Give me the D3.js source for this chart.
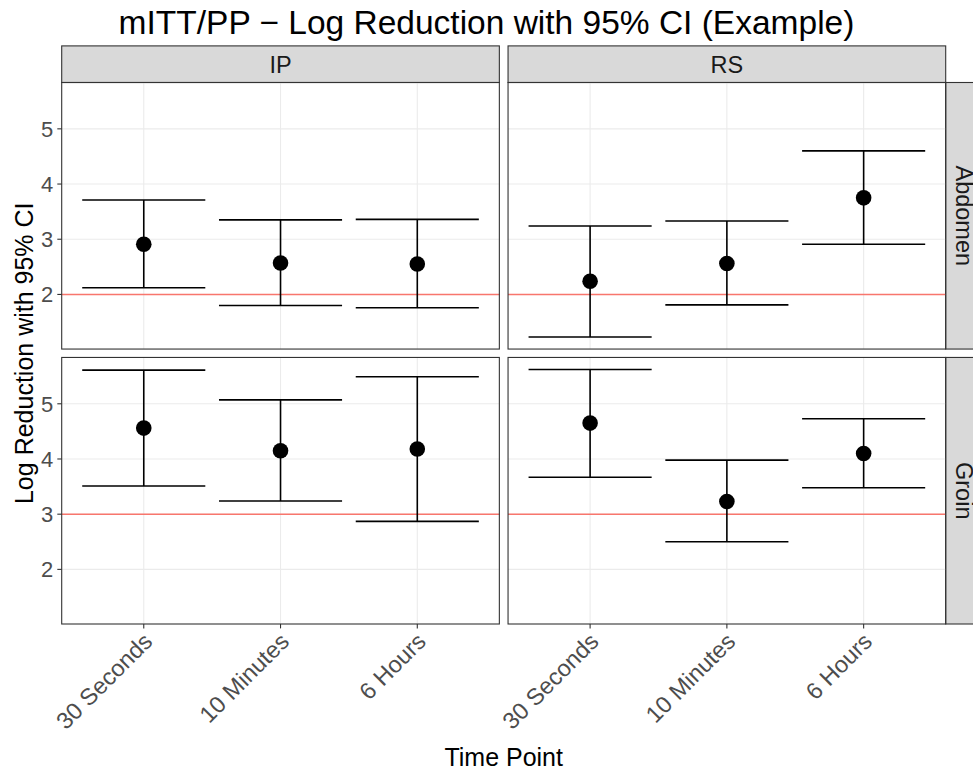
<!DOCTYPE html>
<html lang="en">
<head>
    <meta charset="UTF-8">
    <title>mITT/PP Log Reduction</title>
    <style>
        body { margin: 0; background: #fff; }
        svg { display: block; font-family: "Liberation Sans", Arial, Helvetica, sans-serif; }
        .grid line { stroke: #EBEBEB; stroke-width: 1.1; }
        .frame { fill: none; stroke: #333333; stroke-width: 1.1; }
        .strip { fill: #D9D9D9; stroke: #333333; stroke-width: 1.1; }
        .strip-text { font-size: 23.5px; fill: #1A1A1A; }
        .tick-label { font-size: 22px; fill: #4D4D4D; }
        .tick-label.x { font-size: 23.5px; }
        .axis-title { font-size: 25px; fill: #000; }
    </style>
</head>
<body>
    <svg width="973" height="775"></svg>
    <script src="https://d3js.org/d3.v7.min.js"></script>
    <script>
        // categories
        var timePoints = ["30 Seconds", "10 Minutes", "6 Hours"];
        var groups = ["IP", "RS"];
        var sites = ["Abdomen", "Groin"];
        var thresholds = [2, 3]; // one per site
        var yTicks = [2, 3, 4, 5];

        // log reduction estimates and 95% CI, per facet (site x group)
        var abdomenIPEst = [2.91, 2.57, 2.55];
        var abdomenIPLow = [2.12, 1.80, 1.76];
        var abdomenIPHigh = [3.71, 3.35, 3.36];

        var abdomenRSEst = [2.24, 2.56, 3.75];
        var abdomenRSLow = [1.23, 1.81, 2.91];
        var abdomenRSHigh = [3.24, 3.33, 4.60];

        var groinIPEst = [4.56, 4.15, 4.18];
        var groinIPLow = [3.51, 3.24, 2.87];
        var groinIPHigh = [5.61, 5.07, 5.49];

        var groinRSEst = [4.65, 3.23, 4.10];
        var groinRSLow = [3.67, 2.50, 3.48];
        var groinRSHigh = [5.62, 3.98, 4.73];

        var facets = [
            { site: "Abdomen", group: "IP", est: abdomenIPEst, low: abdomenIPLow, high: abdomenIPHigh },
            { site: "Abdomen", group: "RS", est: abdomenRSEst, low: abdomenRSLow, high: abdomenRSHigh },
            { site: "Groin", group: "IP", est: groinIPEst, low: groinIPLow, high: groinIPHigh },
            { site: "Groin", group: "RS", est: groinRSEst, low: groinRSLow, high: groinRSHigh }
        ];

        var svg = d3.select("svg");

        // layout (avoid window.top etc.)
        var panelL = 61.7, panelR = 945.7, panelT = 82.5, panelB = 624;
        var gapX = 8.7, gapY = 8.4, stripH = 36.6;
        var pw = (panelR - panelL - gapX) / 2;
        var ph = (panelB - panelT - gapY) / 2;

        // shared y scale with ggplot-style 5% expansion
        var allVals = [];
        facets.forEach(function (f) { allVals = allVals.concat(f.low, f.high); });
        var ext = d3.extent(allVals);
        var pad = (ext[1] - ext[0]) * 0.05;

        var y = d3.scaleLinear().domain([ext[0] - pad, ext[1] + pad]).range([ph, 0]);
        // discrete x with 0.6 expansion on each side
        var x = d3.scaleLinear().domain([0.4, timePoints.length + 0.6]).range([0, pw]);

        // title
        svg.append("text")
            .attr("x", 486.5)
            .attr("y", 34)
            .attr("text-anchor", "middle")
            .style("font-size", "33.5px")
            .text("mITT/PP \u2212 Log Reduction with 95% CI (Example)");

        // strips on top
        groups.forEach(function (g, ci) {
            var px = panelL + ci * (pw + gapX);
            svg.append("rect").attr("class", "strip")
                .attr("x", px).attr("y", panelT - stripH)
                .attr("width", pw).attr("height", stripH);
            svg.append("text").attr("class", "strip-text")
                .attr("x", px + pw / 2).attr("y", panelT - stripH / 2)
                .attr("dy", "0.36em")
                .attr("text-anchor", "middle")
                .text(g);
        });

        // strips on the right
        sites.forEach(function (s, ri) {
            var py = panelT + ri * (ph + gapY);
            svg.append("rect").attr("class", "strip")
                .attr("x", panelR).attr("y", py)
                .attr("width", stripH).attr("height", ph);
            svg.append("text").attr("class", "strip-text")
                .attr("transform", "translate(" + (panelR + stripH / 2) + "," + (py + ph / 2) + ") rotate(90)")
                .attr("dy", "0.36em")
                .attr("text-anchor", "middle")
                .text(s);
        });

        facets.forEach(function (f) {
            var ci = groups.indexOf(f.group), ri = sites.indexOf(f.site);
            var g = svg.append("g")
                .attr("transform", "translate(" + (panelL + ci * (pw + gapX)) + "," + (panelT + ri * (ph + gapY)) + ")");

            var grid = g.append("g").attr("class", "grid");
            grid.selectAll(".hy").data(yTicks).enter().append("line")
                .attr("x1", 0).attr("x2", pw)
                .attr("y1", function (d) { return y(d); })
                .attr("y2", function (d) { return y(d); });
            grid.selectAll(".vx").data(timePoints).enter().append("line")
                .attr("y1", 0).attr("y2", ph)
                .attr("x1", function (d, i) { return x(i + 1); })
                .attr("x2", function (d, i) { return x(i + 1); });

            // reference line
            g.append("line")
                .attr("x1", 0).attr("x2", pw)
                .attr("y1", y(thresholds[ri])).attr("y2", y(thresholds[ri]))
                .style("stroke", "#F8766D")
                .style("stroke-width", 1.5);

            var rows = f.est.map(function (e, i) { return { i: i, est: e, low: f.low[i], high: f.high[i] }; });
            var halfW = (x(1.45) - x(1)); // errorbar width 0.9

            var eb = g.selectAll(".eb").data(rows).enter().append("g")
                .style("stroke", "#000").style("stroke-width", 1.6);
            eb.append("line")
                .attr("x1", function (d) { return x(d.i + 1); })
                .attr("x2", function (d) { return x(d.i + 1); })
                .attr("y1", function (d) { return y(d.low); })
                .attr("y2", function (d) { return y(d.high); });
            eb.append("line")
                .attr("x1", function (d) { return x(d.i + 1) - halfW; })
                .attr("x2", function (d) { return x(d.i + 1) + halfW; })
                .attr("y1", function (d) { return y(d.high); })
                .attr("y2", function (d) { return y(d.high); });
            eb.append("line")
                .attr("x1", function (d) { return x(d.i + 1) - halfW; })
                .attr("x2", function (d) { return x(d.i + 1) + halfW; })
                .attr("y1", function (d) { return y(d.low); })
                .attr("y2", function (d) { return y(d.low); });

            g.selectAll(".pt").data(rows).enter().append("circle")
                .attr("cx", function (d) { return x(d.i + 1); })
                .attr("cy", function (d) { return y(d.est); })
                .attr("r", 7.8)
                .style("fill", "#000");

            g.append("rect").attr("class", "frame")
                .attr("width", pw).attr("height", ph);

            // y axis on left column
            if (ci === 0) {
                var ya = g.append("g");
                ya.selectAll("line").data(yTicks).enter().append("line")
                    .attr("x1", -4.4).attr("x2", 0)
                    .attr("y1", function (d) { return y(d); })
                    .attr("y2", function (d) { return y(d); })
                    .style("stroke", "#333333").style("stroke-width", 1.1);
                ya.selectAll("text").data(yTicks).enter().append("text")
                    .attr("class", "tick-label")
                    .attr("x", -8.5)
                    .attr("y", function (d) { return y(d); })
                    .attr("dy", "0.36em")
                    .attr("text-anchor", "end")
                    .text(function (d) { return d; });
            }

            // x axis on bottom row
            if (ri === sites.length - 1) {
                var xa = g.append("g").attr("transform", "translate(0," + ph + ")");
                xa.selectAll("line").data(timePoints).enter().append("line")
                    .attr("x1", function (d, i) { return x(i + 1); })
                    .attr("x2", function (d, i) { return x(i + 1); })
                    .attr("y1", 0).attr("y2", 4.4)
                    .style("stroke", "#333333").style("stroke-width", 1.1);
                xa.selectAll("text").data(timePoints).enter().append("text")
                    .attr("class", "tick-label x")
                    .attr("transform", function (d, i) {
                        return "translate(" + (x(i + 1) - 2) + ",7) rotate(-45)";
                    })
                    .attr("dy", "0.72em")
                    .attr("text-anchor", "end")
                    .text(function (d) { return d; });
            }
        });

        // axis titles
        svg.append("text").attr("class", "axis-title")
            .attr("x", (panelL + panelR) / 2)
            .attr("y", 766)
            .attr("text-anchor", "middle")
            .text("Time Point");

        svg.append("text").attr("class", "axis-title")
            .attr("transform", "translate(33," + (panelT + panelB) / 2 + ") rotate(-90)")
            .attr("text-anchor", "middle")
            .text("Log Reduction with 95% CI");
    </script>
</body>
</html>
